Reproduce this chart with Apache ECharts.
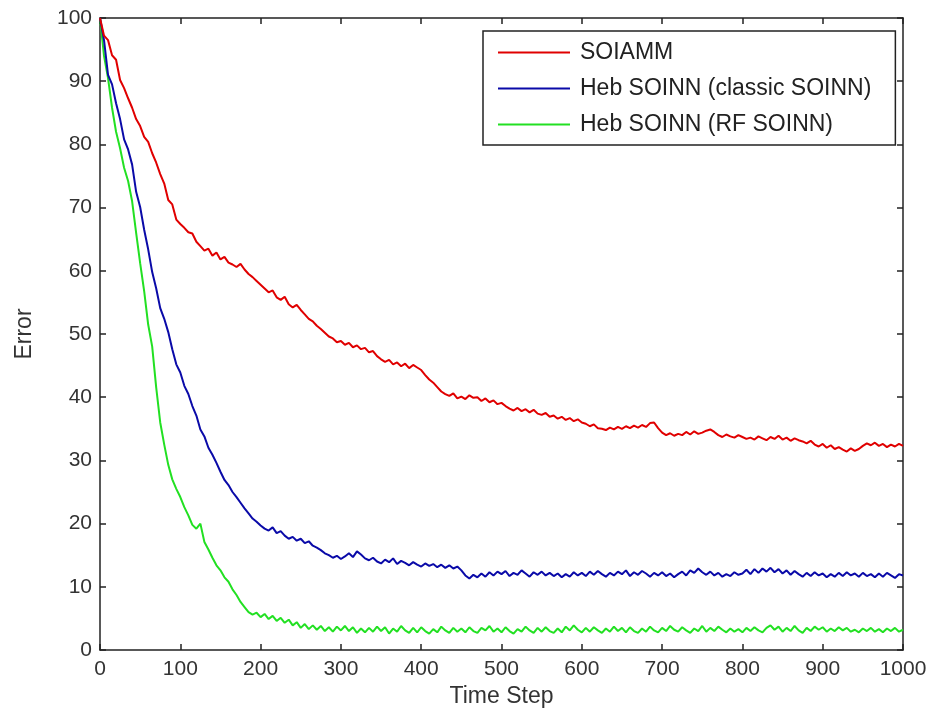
<!DOCTYPE html>
<html>
<head>
<meta charset="utf-8">
<script src="https://cdn.jsdelivr.net/npm/echarts@6/dist/echarts.min.js"></script>
<style>
html,body{margin:0;padding:0;background:#fff;}
#chart{width:932px;height:717px;}
</style>
</head>
<body>
<div id="chart"></div>
<script>
// Time step spacing of the sampled values below (0, 5, 10, ... 1000)
const stepSize = 5;
const seriesNames = ['SOIAMM', 'Heb SOINN (classic SOINN)', 'Heb SOINN (RF SOINN)'];
const xTicks = [0, 100, 200, 300, 400, 500, 600, 700, 800, 900, 1000];
const yTicks = [0, 10, 20, 30, 40, 50, 60, 70, 80, 90, 100];

const soiamm = [
 100, 97.2, 96.5, 94.1, 93.4, 90.2, 88.9, 87.3, 85.8, 84.0,
 82.9, 81.2, 80.4, 78.6, 77.1, 75.3, 73.8, 71.2, 70.5, 68.1,
 67.4, 66.8, 66.1, 65.9, 64.6, 63.9, 63.2, 63.5, 62.4, 62.9,
 61.8, 62.2, 61.3, 61.0, 60.6, 61.1, 60.2, 59.5, 59.0, 58.4,
 57.8, 57.2, 56.6, 56.9, 55.8, 55.4, 55.9, 54.7, 54.2, 54.6,
 53.8, 53.1, 52.4, 52.0, 51.3, 50.8, 50.2, 49.6, 49.3, 48.7,
 48.9, 48.3, 48.6, 47.9, 48.2, 47.6, 47.8, 47.1, 47.3, 46.5,
 46.0, 45.6, 45.9, 45.2, 45.5, 44.9, 45.3, 44.6, 45.1, 44.7,
 44.3, 43.5, 42.8, 42.3, 41.6, 40.9, 40.5, 40.2, 40.6, 39.8,
 40.1, 39.7, 40.3, 39.9, 40.0, 39.4, 39.8, 39.2, 39.5, 38.9,
 39.1, 38.6, 38.2, 37.9, 38.3, 37.8, 38.1, 37.6, 38.0, 37.4,
 37.2, 37.5, 36.9, 37.1, 36.6, 36.9, 36.4, 36.7, 36.2, 36.5,
 36.0, 35.8, 35.4, 35.7, 35.1, 35.0, 34.8, 35.2, 34.9, 35.3,
 35.0, 35.4, 35.1, 35.5, 35.2, 35.6, 35.3, 35.9, 36.0, 35.1,
 34.4, 34.0, 34.3, 33.9, 34.2, 34.0, 34.5, 34.1, 34.6, 34.2,
 34.4, 34.7, 34.9, 34.5, 34.0, 33.7, 34.1, 33.8, 33.6, 34.0,
 33.7, 33.4, 33.6, 33.3, 33.8, 33.5, 33.2, 33.7, 33.4, 33.9,
 33.3, 33.6, 33.1, 33.5, 33.2, 33.0, 32.7, 33.1, 32.5, 32.2,
 32.6, 32.0, 32.4, 31.8, 32.1, 31.7, 31.4, 31.9, 31.5, 31.8,
 32.3, 32.7, 32.4, 32.8, 32.3, 32.6, 32.1, 32.5, 32.2, 32.6,
 32.3
];

const classicSoinn = [
 100, 96.5, 91.0, 89.5, 86.5, 84.0, 80.8, 79.2, 76.8, 72.5,
 70.1, 66.5, 63.4, 59.8, 57.2, 54.1, 52.4, 50.3, 47.6, 45.2,
 43.9, 41.8, 40.5, 38.6, 37.1, 34.9, 33.8, 32.0, 30.9, 29.6,
 28.2, 26.9, 26.1, 25.0, 24.2, 23.3, 22.4, 21.6, 20.8, 20.3,
 19.7, 19.2, 18.9, 19.4, 18.5, 18.8, 18.1, 17.6, 17.9, 17.3,
 17.6, 16.9, 17.2, 16.5, 16.2, 15.8, 15.3, 15.0, 14.6, 14.9,
 14.4, 14.8, 15.3, 14.7, 15.6, 15.1, 14.5, 14.2, 14.6, 14.0,
 13.7, 14.3, 13.9, 14.5, 13.6, 14.1, 13.8, 13.4, 13.9, 13.5,
 13.2, 13.7, 13.3, 13.6, 13.1, 13.5, 13.0, 13.4, 12.9, 13.2,
 12.6, 11.8, 11.3, 11.9, 11.5, 12.1, 11.6, 12.3, 11.8, 12.4,
 12.0, 12.5, 11.7, 12.2, 11.9, 12.6, 12.1, 11.6, 12.3, 11.9,
 12.4, 11.8, 12.2, 11.7, 12.1, 11.5, 12.0, 11.6, 12.3, 11.8,
 12.2, 11.7, 12.4, 11.9, 12.5, 12.0, 11.6, 12.2, 11.8, 12.4,
 12.0, 12.6, 11.7, 12.3, 11.9, 12.5, 12.1, 11.6, 12.2, 11.8,
 12.3, 11.7, 12.1, 11.5, 12.0, 12.4, 11.8, 12.6, 12.2, 12.9,
 12.3, 11.9, 12.4, 11.8, 12.2, 11.6, 12.0, 11.7, 12.3, 11.9,
 12.1, 12.7, 12.0, 12.8, 12.2, 12.9, 12.4, 13.0, 12.3, 12.8,
 12.1, 12.6, 11.9, 12.5, 12.0, 11.6, 12.2, 11.7, 12.3, 11.8,
 12.1, 11.5, 12.0, 11.6, 12.2, 11.7, 12.3, 11.8, 12.1, 11.6,
 12.2, 11.7, 12.0, 11.5, 12.1, 11.6, 12.2, 11.8, 11.4, 12.0,
 11.8
];

const rfSoinn = [
 100, 94.0, 90.5, 85.8, 82.0, 79.4, 76.3, 74.2, 71.0, 66.0,
 61.2, 56.8, 51.5, 48.0, 41.5, 36.0, 32.5, 29.3, 27.0, 25.5,
 24.2, 22.6, 21.3, 19.8, 19.2, 20.0, 17.1, 15.9, 14.6, 13.4,
 12.6, 11.5, 10.8, 9.6, 8.7, 7.6, 6.8, 6.0, 5.6, 5.9,
 5.2, 5.7, 4.9, 5.4, 4.6, 5.1, 4.3, 4.8, 3.9, 4.4,
 3.5, 4.1, 3.3, 3.9, 3.2, 3.8, 3.0, 3.6, 2.9, 3.7,
 3.1, 3.8, 3.0, 3.6, 2.7, 3.4, 2.8, 3.5, 2.9, 3.7,
 3.0, 3.6, 2.6, 3.4, 2.9, 3.8, 3.1, 2.7, 3.5, 2.8,
 3.6, 3.0, 2.6, 3.3, 2.8, 3.7, 3.1, 2.7, 3.5, 2.9,
 3.4, 2.8, 3.6, 3.0, 2.7, 3.5, 3.1, 3.8, 2.9, 3.4,
 2.8, 3.6, 3.0, 2.6, 3.3, 2.9, 3.7, 3.1, 2.7, 3.5,
 2.9, 3.6, 3.0, 2.7, 3.4, 2.8, 3.7, 3.1, 3.9, 3.2,
 2.8, 3.5, 2.9, 3.6, 3.1, 2.7, 3.4, 2.9, 3.7, 3.0,
 3.5, 2.8, 3.6, 3.0, 2.7, 3.4, 2.9, 3.7, 3.1, 2.8,
 3.5, 3.0, 3.8, 3.2, 2.9, 3.6, 3.1, 2.7, 3.4, 3.0,
 3.8, 2.9, 3.5, 3.0, 3.7, 3.2, 2.8, 3.4, 2.9, 3.3,
 2.8, 3.5, 3.0, 3.6, 3.1, 2.8, 3.5, 3.9, 3.2, 3.7,
 2.9, 3.5, 3.0, 3.8, 3.1, 2.7, 3.5, 3.0, 3.7, 3.2,
 3.6, 2.9, 3.4, 3.0, 3.6, 3.1, 3.5, 2.9, 3.2, 2.8,
 3.4, 3.0, 3.5, 2.9, 3.3, 2.8, 3.4, 3.0, 3.5, 2.9,
 3.2
];

const colors = ['#e00000', '#0a0aa8', '#22e022'];
const toPairs = arr => arr.map((v, i) => [i * stepSize, v]);

const font = 'Liberation Sans, Arial, sans-serif';
const axisCommon = {
  axisLine: { show: true, onZero: false, lineStyle: { color: '#222', width: 1.5 } },
  axisTick: { show: true, inside: true, length: 6, lineStyle: { color: '#222', width: 1.5 } },
  splitLine: { show: false }
};

const chart = echarts.init(document.getElementById('chart'));
chart.setOption({
  animation: false,
  backgroundColor: '#fff',
  grid: { left: 100, top: 18, right: 29, bottom: 67 },
  legend: {
    orient: 'vertical',
    left: 483, top: 31,
    padding: [10, 24, 9, 15],
    itemGap: 13,
    itemWidth: 72, itemHeight: 2,
    icon: 'rect',
    backgroundColor: '#fff',
    borderColor: '#222', borderWidth: 1.5,
    data: seriesNames,
    textStyle: { fontFamily: font, fontSize: 23, color: '#222', padding: [0, 0, 0, 5] }
  },
  xAxis: [
    Object.assign({
      type: 'value', min: xTicks[0], max: xTicks[xTicks.length - 1], interval: xTicks[1] - xTicks[0],
      position: 'bottom',
      name: 'Time Step', nameLocation: 'middle', nameGap: 28,
      nameTextStyle: { fontFamily: font, fontSize: 23, color: '#333' },
      axisLabel: { fontFamily: font, fontSize: 21, color: '#333', margin: 9, formatter: v => String(v) }
    }, axisCommon),
    Object.assign({
      type: 'value', min: xTicks[0], max: xTicks[xTicks.length - 1], interval: xTicks[1] - xTicks[0],
      position: 'top', axisLabel: { show: false }
    }, axisCommon)
  ],
  yAxis: [
    Object.assign({
      type: 'value', min: yTicks[0], max: yTicks[yTicks.length - 1], interval: yTicks[1] - yTicks[0],
      position: 'left',
      name: 'Error', nameLocation: 'middle', nameGap: 64,
      nameTextStyle: { fontFamily: font, fontSize: 23, color: '#333' },
      axisLabel: { fontFamily: font, fontSize: 21, color: '#333', margin: 8, formatter: v => String(v) }
    }, axisCommon),
    Object.assign({
      type: 'value', min: yTicks[0], max: yTicks[yTicks.length - 1], interval: yTicks[1] - yTicks[0],
      position: 'right', axisLabel: { show: false }
    }, axisCommon)
  ],
  series: [soiamm, classicSoinn, rfSoinn].map((arr, k) => ({
    name: seriesNames[k],
    type: 'line',
    xAxisIndex: 0, yAxisIndex: 0,
    data: toPairs(arr),
    symbol: 'none',
    color: colors[k],
    lineStyle: { color: colors[k], width: 2 },
    z: 3 - k
  }))
});
</script>
</body>
</html>
